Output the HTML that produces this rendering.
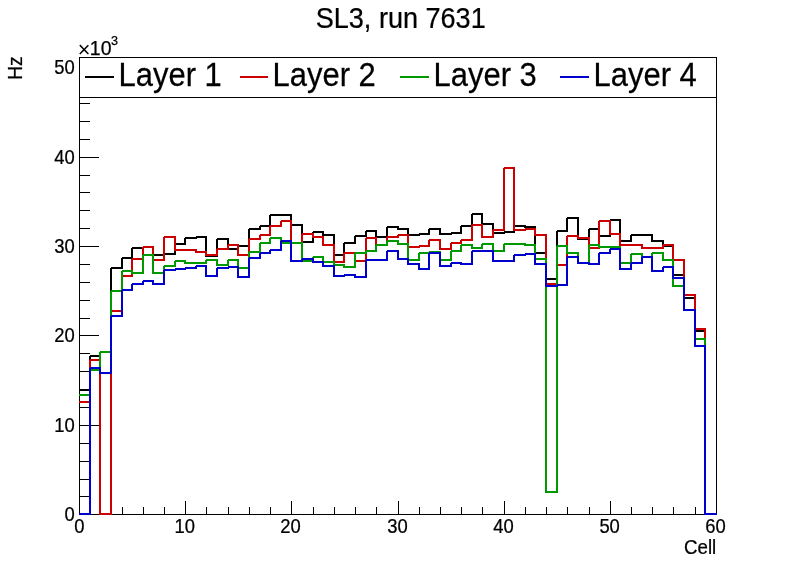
<!DOCTYPE html>
<html><head><meta charset="utf-8"><style>
html,body{margin:0;padding:0;background:#fff;}
svg{display:block;will-change:transform;}
text{font-family:"Liberation Sans",Arial,sans-serif;fill:#000;stroke:#000;stroke-width:0.25px;}
</style></head><body>
<svg width="796" height="572" viewBox="0 0 796 572">
<rect width="796" height="572" fill="#fff"/>
<rect x="79.5" y="57.5" width="637" height="457" fill="none" stroke="#000" stroke-width="1" shape-rendering="crispEdges"/>
<g fill="#000" shape-rendering="crispEdges"><rect x="79" y="514" width="20" height="1"/><rect x="79" y="496" width="11" height="1"/><rect x="79" y="479" width="11" height="1"/><rect x="79" y="461" width="11" height="1"/><rect x="79" y="443" width="11" height="1"/><rect x="79" y="425" width="20" height="1"/><rect x="79" y="407" width="11" height="1"/><rect x="79" y="389" width="11" height="1"/><rect x="79" y="371" width="11" height="1"/><rect x="79" y="353" width="11" height="1"/><rect x="79" y="335" width="20" height="1"/><rect x="79" y="318" width="11" height="1"/><rect x="79" y="300" width="11" height="1"/><rect x="79" y="282" width="11" height="1"/><rect x="79" y="264" width="11" height="1"/><rect x="79" y="246" width="20" height="1"/><rect x="79" y="228" width="11" height="1"/><rect x="79" y="210" width="11" height="1"/><rect x="79" y="192" width="11" height="1"/><rect x="79" y="175" width="11" height="1"/><rect x="79" y="157" width="20" height="1"/><rect x="79" y="139" width="11" height="1"/><rect x="79" y="121" width="11" height="1"/><rect x="79" y="103" width="11" height="1"/><rect x="79" y="85" width="11" height="1"/><rect x="79" y="67" width="20" height="1"/><rect x="79" y="501" width="1" height="14"/><rect x="100" y="507" width="1" height="8"/><rect x="122" y="507" width="1" height="8"/><rect x="143" y="507" width="1" height="8"/><rect x="164" y="507" width="1" height="8"/><rect x="185" y="501" width="1" height="14"/><rect x="206" y="507" width="1" height="8"/><rect x="228" y="507" width="1" height="8"/><rect x="249" y="507" width="1" height="8"/><rect x="270" y="507" width="1" height="8"/><rect x="291" y="501" width="1" height="14"/><rect x="313" y="507" width="1" height="8"/><rect x="334" y="507" width="1" height="8"/><rect x="355" y="507" width="1" height="8"/><rect x="376" y="507" width="1" height="8"/><rect x="398" y="501" width="1" height="14"/><rect x="419" y="507" width="1" height="8"/><rect x="440" y="507" width="1" height="8"/><rect x="461" y="507" width="1" height="8"/><rect x="482" y="507" width="1" height="8"/><rect x="504" y="501" width="1" height="14"/><rect x="525" y="507" width="1" height="8"/><rect x="546" y="507" width="1" height="8"/><rect x="567" y="507" width="1" height="8"/><rect x="589" y="507" width="1" height="8"/><rect x="610" y="501" width="1" height="14"/><rect x="631" y="507" width="1" height="8"/><rect x="652" y="507" width="1" height="8"/><rect x="673" y="507" width="1" height="8"/><rect x="695" y="507" width="1" height="8"/><rect x="716" y="501" width="1" height="14"/></g>
<path d="M79,389h12v2h-12zM89,356h2v35h-2zM90,355h11v2h-11zM99,352h2v5h-2zM100,351h12v2h-12zM110,268h2v85h-2zM111,267h12v2h-12zM121,258h2v11h-2zM122,257h11v2h-11zM131,248h2v11h-2zM132,247h12v2h-12zM142,247h2v2h-2zM143,246h11v2h-11zM152,247h2v9h-2zM153,254h12v2h-12zM163,254h2v2h-2zM164,253h12v2h-12zM174,244h2v11h-2zM175,243h11v2h-11zM184,238h2v7h-2zM185,237h12v2h-12zM195,237h2v2h-2zM196,236h11v2h-11zM205,237h2v20h-2zM206,255h12v2h-12zM216,239h2v18h-2zM217,238h12v2h-12zM227,239h2v11h-2zM228,248h11v2h-11zM237,246h2v4h-2zM238,245h12v2h-12zM248,229h2v18h-2zM249,228h12v2h-12zM259,226h2v4h-2zM260,225h11v2h-11zM269,215h2v12h-2zM270,214h12v2h-12zM280,215h2v1h-2zM281,214h11v2h-11zM290,215h2v11h-2zM291,224h12v2h-12zM301,225h2v18h-2zM302,241h12v2h-12zM312,232h2v11h-2zM313,231h11v2h-11zM322,232h2v4h-2zM323,234h12v2h-12zM333,235h2v21h-2zM334,254h11v2h-11zM343,243h2v13h-2zM344,242h12v2h-12zM354,236h2v8h-2zM355,235h12v2h-12zM365,231h2v6h-2zM366,230h11v2h-11zM375,231h2v7h-2zM376,236h12v2h-12zM386,227h2v11h-2zM387,226h12v2h-12zM397,227h2v3h-2zM398,228h11v2h-11zM407,229h2v7h-2zM408,234h12v2h-12zM418,234h2v2h-2zM419,233h11v2h-11zM428,229h2v6h-2zM429,228h12v2h-12zM439,229h2v6h-2zM440,233h12v2h-12zM450,233h2v2h-2zM451,232h11v2h-11zM460,226h2v8h-2zM461,225h12v2h-12zM471,214h2v13h-2zM472,213h11v2h-11zM481,214h2v11h-2zM482,223h12v2h-12zM492,224h2v10h-2zM493,232h12v2h-12zM503,232h2v2h-2zM504,231h11v2h-11zM513,226h2v7h-2zM514,225h12v2h-12zM524,226h2v2h-2zM525,226h11v2h-11zM534,227h2v27h-2zM535,252h12v2h-12zM545,253h2v27h-2zM546,278h12v2h-12zM556,231h2v49h-2zM557,230h11v2h-11zM566,218h2v14h-2zM567,217h12v2h-12zM577,218h2v22h-2zM578,238h12v2h-12zM588,229h2v11h-2zM589,228h11v2h-11zM598,229h2v8h-2zM599,235h12v2h-12zM609,220h2v17h-2zM610,219h11v2h-11zM619,220h2v22h-2zM620,240h12v2h-12zM630,235h2v7h-2zM631,234h12v2h-12zM641,235h2v1h-2zM642,234h11v2h-11zM651,235h2v7h-2zM652,240h12v2h-12zM662,241h2v6h-2zM663,245h11v2h-11zM672,246h2v30h-2zM673,274h12v2h-12zM683,275h2v24h-2zM684,297h12v2h-12zM694,298h2v34h-2zM695,330h11v2h-11zM704,331h2v184h-2zM705,513h12v2h-12z" fill="#000000" shape-rendering="crispEdges"/>
<path d="M79,401h12v2h-12zM89,360h2v43h-2zM90,359h11v2h-11zM99,360h2v155h-2zM100,513h12v2h-12zM110,311h2v204h-2zM111,310h12v2h-12zM121,276h2v36h-2zM122,275h11v2h-11zM131,259h2v18h-2zM132,258h12v2h-12zM142,247h2v13h-2zM143,246h11v2h-11zM152,247h2v14h-2zM153,259h12v2h-12zM163,237h2v24h-2zM164,236h12v2h-12zM174,237h2v14h-2zM175,249h11v2h-11zM184,250h2v1h-2zM185,249h12v2h-12zM195,250h2v3h-2zM196,251h11v2h-11zM205,252h2v4h-2zM206,254h12v2h-12zM216,249h2v7h-2zM217,248h12v2h-12zM227,245h2v5h-2zM228,244h11v2h-11zM237,245h2v11h-2zM238,254h12v2h-12zM248,239h2v17h-2zM249,238h12v2h-12zM259,235h2v5h-2zM260,234h11v2h-11zM269,226h2v10h-2zM270,225h12v2h-12zM280,221h2v6h-2zM281,220h11v2h-11zM290,221h2v23h-2zM291,242h12v2h-12zM301,234h2v10h-2zM302,233h12v2h-12zM312,234h2v4h-2zM313,236h11v2h-11zM322,237h2v9h-2zM323,244h12v2h-12zM333,245h2v18h-2zM334,261h11v2h-11zM343,253h2v10h-2zM344,252h12v2h-12zM354,253h2v9h-2zM355,260h12v2h-12zM365,238h2v24h-2zM366,237h11v2h-11zM375,238h2v8h-2zM376,244h12v2h-12zM386,237h2v9h-2zM387,236h12v2h-12zM397,235h2v3h-2zM398,234h11v2h-11zM407,235h2v13h-2zM408,246h12v2h-12zM418,246h2v2h-2zM419,245h11v2h-11zM428,240h2v7h-2zM429,239h12v2h-12zM439,240h2v10h-2zM440,248h12v2h-12zM450,243h2v7h-2zM451,242h11v2h-11zM460,240h2v4h-2zM461,239h12v2h-12zM471,225h2v16h-2zM472,224h11v2h-11zM481,225h2v13h-2zM482,236h12v2h-12zM492,230h2v8h-2zM493,229h12v2h-12zM503,168h2v63h-2zM504,167h11v2h-11zM513,168h2v63h-2zM514,229h12v2h-12zM524,229h2v2h-2zM525,228h11v2h-11zM534,229h2v7h-2zM535,234h12v2h-12zM545,235h2v50h-2zM546,283h12v2h-12zM556,265h2v20h-2zM557,264h11v2h-11zM566,236h2v30h-2zM567,235h12v2h-12zM577,236h2v3h-2zM578,237h12v2h-12zM588,238h2v11h-2zM589,247h11v2h-11zM598,221h2v28h-2zM599,220h12v2h-12zM609,221h2v14h-2zM610,233h11v2h-11zM619,234h2v12h-2zM620,244h12v2h-12zM630,245h2v1h-2zM631,244h12v2h-12zM641,245h2v4h-2zM642,247h11v2h-11zM651,248h2v1h-2zM652,247h12v2h-12zM662,245h2v4h-2zM663,244h11v2h-11zM672,245h2v16h-2zM673,259h12v2h-12zM683,260h2v36h-2zM684,294h12v2h-12zM694,295h2v35h-2zM695,328h11v2h-11zM704,329h2v186h-2zM705,513h12v2h-12z" fill="#cc0000" shape-rendering="crispEdges"/>
<path d="M79,394h12v2h-12zM89,370h2v26h-2zM90,369h11v2h-11zM99,352h2v19h-2zM100,351h12v2h-12zM110,291h2v62h-2zM111,290h12v2h-12zM121,271h2v21h-2zM122,270h11v2h-11zM131,271h2v3h-2zM132,272h12v2h-12zM142,255h2v19h-2zM143,254h11v2h-11zM152,255h2v19h-2zM153,272h12v2h-12zM163,266h2v8h-2zM164,265h12v2h-12zM174,261h2v6h-2zM175,260h11v2h-11zM184,261h2v3h-2zM185,262h12v2h-12zM195,263h2v1h-2zM196,262h11v2h-11zM205,260h2v4h-2zM206,259h12v2h-12zM216,260h2v6h-2zM217,264h12v2h-12zM227,260h2v6h-2zM228,259h11v2h-11zM237,260h2v9h-2zM238,267h12v2h-12zM248,252h2v17h-2zM249,251h12v2h-12zM259,243h2v10h-2zM260,242h11v2h-11zM269,238h2v6h-2zM270,237h12v2h-12zM280,238h2v6h-2zM281,242h11v2h-11zM290,243h2v1h-2zM291,242h12v2h-12zM301,243h2v19h-2zM302,260h12v2h-12zM312,257h2v5h-2zM313,256h11v2h-11zM322,257h2v6h-2zM323,261h12v2h-12zM333,262h2v4h-2zM334,264h11v2h-11zM343,265h2v3h-2zM344,266h12v2h-12zM354,253h2v15h-2zM355,252h12v2h-12zM365,251h2v3h-2zM366,250h11v2h-11zM375,245h2v7h-2zM376,244h12v2h-12zM386,241h2v5h-2zM387,240h12v2h-12zM397,241h2v4h-2zM398,243h11v2h-11zM407,244h2v17h-2zM408,259h12v2h-12zM418,253h2v8h-2zM419,252h11v2h-11zM428,252h2v2h-2zM429,251h12v2h-12zM439,252h2v9h-2zM440,259h12v2h-12zM450,251h2v10h-2zM451,250h11v2h-11zM460,245h2v7h-2zM461,244h12v2h-12zM471,245h2v4h-2zM472,247h11v2h-11zM481,244h2v5h-2zM482,243h12v2h-12zM492,244h2v8h-2zM493,250h12v2h-12zM503,244h2v8h-2zM504,243h11v2h-11zM513,244h2v1h-2zM514,243h12v2h-12zM524,244h2v2h-2zM525,244h11v2h-11zM534,245h2v15h-2zM535,258h12v2h-12zM545,259h2v234h-2zM546,491h12v2h-12zM556,246h2v247h-2zM557,245h11v2h-11zM566,246h2v8h-2zM567,252h12v2h-12zM577,253h2v11h-2zM578,262h12v2h-12zM588,245h2v19h-2zM589,244h11v2h-11zM598,245h2v3h-2zM599,246h12v2h-12zM609,247h2v1h-2zM610,246h11v2h-11zM619,247h2v17h-2zM620,262h12v2h-12zM630,254h2v10h-2zM631,253h12v2h-12zM641,254h2v4h-2zM642,256h11v2h-11zM651,253h2v5h-2zM652,252h12v2h-12zM662,253h2v8h-2zM663,259h11v2h-11zM672,260h2v27h-2zM673,285h12v2h-12zM683,286h2v25h-2zM684,309h12v2h-12zM694,310h2v30h-2zM695,338h11v2h-11zM704,339h2v176h-2zM705,513h12v2h-12z" fill="#009900" shape-rendering="crispEdges"/>
<path d="M79,513h12v2h-12zM89,368h2v147h-2zM90,367h11v2h-11zM99,368h2v6h-2zM100,372h12v2h-12zM110,316h2v58h-2zM111,315h12v2h-12zM121,290h2v27h-2zM122,289h11v2h-11zM131,284h2v7h-2zM132,283h12v2h-12zM142,281h2v4h-2zM143,280h11v2h-11zM152,281h2v4h-2zM153,283h12v2h-12zM163,270h2v15h-2zM164,269h12v2h-12zM174,269h2v2h-2zM175,268h11v2h-11zM184,268h2v2h-2zM185,267h12v2h-12zM195,266h2v3h-2zM196,265h11v2h-11zM205,266h2v11h-2zM206,275h12v2h-12zM216,268h2v9h-2zM217,267h12v2h-12zM227,267h2v2h-2zM228,266h11v2h-11zM237,267h2v11h-2zM238,276h12v2h-12zM248,258h2v20h-2zM249,257h12v2h-12zM259,253h2v6h-2zM260,252h11v2h-11zM269,250h2v4h-2zM270,249h12v2h-12zM280,241h2v10h-2zM281,240h11v2h-11zM290,241h2v21h-2zM291,260h12v2h-12zM301,259h2v3h-2zM302,258h12v2h-12zM312,259h2v4h-2zM313,261h11v2h-11zM322,262h2v5h-2zM323,265h12v2h-12zM333,266h2v11h-2zM334,275h11v2h-11zM343,275h2v2h-2zM344,274h12v2h-12zM354,275h2v3h-2zM355,276h12v2h-12zM365,260h2v18h-2zM366,259h11v2h-11zM375,260h2v1h-2zM376,259h12v2h-12zM386,251h2v10h-2zM387,250h12v2h-12zM397,251h2v9h-2zM398,258h11v2h-11zM407,259h2v6h-2zM408,263h12v2h-12zM418,264h2v6h-2zM419,268h11v2h-11zM428,253h2v17h-2zM429,252h12v2h-12zM439,253h2v14h-2zM440,265h12v2h-12zM450,263h2v4h-2zM451,262h11v2h-11zM460,263h2v2h-2zM461,263h12v2h-12zM471,251h2v14h-2zM472,250h11v2h-11zM481,251h2v1h-2zM482,250h12v2h-12zM492,251h2v11h-2zM493,260h12v2h-12zM503,261h2v1h-2zM504,260h11v2h-11zM513,255h2v7h-2zM514,254h12v2h-12zM524,254h2v2h-2zM525,253h11v2h-11zM534,254h2v11h-2zM535,263h12v2h-12zM545,264h2v23h-2zM546,285h12v2h-12zM556,285h2v2h-2zM557,284h11v2h-11zM566,257h2v29h-2zM567,256h12v2h-12zM577,257h2v7h-2zM578,262h12v2h-12zM588,263h2v2h-2zM589,263h11v2h-11zM598,253h2v12h-2zM599,252h12v2h-12zM609,249h2v5h-2zM610,248h11v2h-11zM619,249h2v21h-2zM620,268h12v2h-12zM630,263h2v7h-2zM631,262h12v2h-12zM641,257h2v7h-2zM642,256h11v2h-11zM651,257h2v15h-2zM652,270h12v2h-12zM662,267h2v5h-2zM663,266h11v2h-11zM672,267h2v12h-2zM673,277h12v2h-12zM683,278h2v33h-2zM684,309h12v2h-12zM694,310h2v37h-2zM695,345h11v2h-11zM704,346h2v169h-2zM705,513h12v2h-12z" fill="#0000cc" shape-rendering="crispEdges"/>
<rect x="79.5" y="57.5" width="637" height="40" fill="#fff" stroke="#000" stroke-width="1" shape-rendering="crispEdges"/><rect x="85" y="76" width="29" height="2" fill="#000000"/><text transform="translate(118.52,86.00) scale(0.924,1)" font-size="33.5">Layer 1</text><rect x="240" y="76" width="28" height="2" fill="#cc0000"/><text transform="translate(272.52,86.00) scale(0.924,1)" font-size="33.5">Layer 2</text><rect x="400" y="76" width="29" height="2" fill="#009900"/><text transform="translate(433.52,86.00) scale(0.924,1)" font-size="33.5">Layer 3</text><rect x="560" y="76" width="29" height="2" fill="#0000cc"/><text transform="translate(593.52,86.00) scale(0.924,1)" font-size="33.5">Layer 4</text>
<text transform="translate(74.80,521.21) scale(0.93,1)" font-size="19.8" text-anchor="end">0</text>
<text transform="translate(74.80,432.36) scale(0.93,1)" font-size="19.8" text-anchor="end">10</text>
<text transform="translate(74.80,342.16) scale(0.93,1)" font-size="19.8" text-anchor="end">20</text>
<text transform="translate(74.80,253.36) scale(0.93,1)" font-size="19.8" text-anchor="end">30</text>
<text transform="translate(74.80,164.11) scale(0.93,1)" font-size="19.8" text-anchor="end">40</text>
<text transform="translate(74.80,74.06) scale(0.93,1)" font-size="19.8" text-anchor="end">50</text>
<text transform="translate(79.30,533.30) scale(0.93,1)" font-size="19.8" text-anchor="middle">0</text>
<text transform="translate(184.75,533.30) scale(0.93,1)" font-size="19.8" text-anchor="middle">10</text>
<text transform="translate(290.53,533.30) scale(0.93,1)" font-size="19.8" text-anchor="middle">20</text>
<text transform="translate(397.47,533.30) scale(0.93,1)" font-size="19.8" text-anchor="middle">30</text>
<text transform="translate(503.51,533.30) scale(0.93,1)" font-size="19.8" text-anchor="middle">40</text>
<text transform="translate(609.62,533.30) scale(0.93,1)" font-size="19.8" text-anchor="middle">50</text>
<text transform="translate(715.48,533.30) scale(0.93,1)" font-size="19.8" text-anchor="middle">60</text>
<text transform="translate(683.96,553.90) scale(0.955,1)" font-size="19.6">Cell</text>
<text transform="translate(21.85,79.84) rotate(-90) scale(0.965,1)" font-size="19.9">Hz</text>
<text x="77.80" y="57.49" font-size="21.7" style="stroke:none">×</text>
<text x="89.80" y="54.90" font-size="19.5">10</text>
<text x="110.97" y="45.07" font-size="12.6">3</text>
<text transform="translate(315.70,28.00) scale(0.94,1)" font-size="28.8">SL3, run 7631</text>
</svg>
</body></html>
